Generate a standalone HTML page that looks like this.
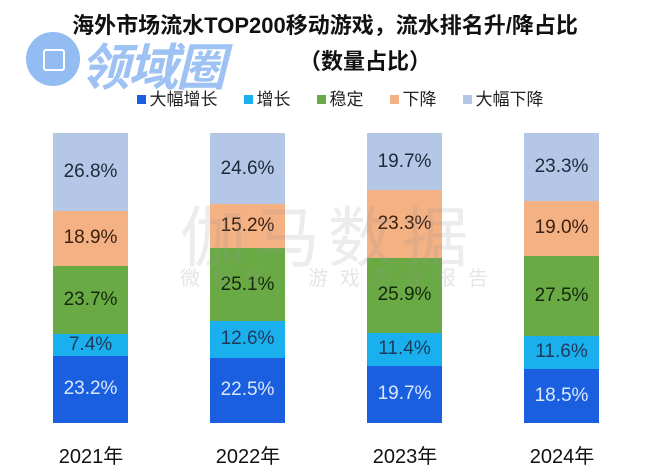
<!DOCTYPE html>
<html><head><meta charset="utf-8"><style>
body{margin:0;width:650px;height:476px;background:#fff;overflow:hidden;position:relative;font-family:"Liberation Sans","Noto Sans CJK SC",sans-serif}
.t{position:absolute;left:0;width:650px;text-align:center;font-weight:bold;font-size:22px;color:#111}
.leg{position:absolute;top:85px;left:0;width:650px;text-align:center;font-size:17px;color:#222;padding-left:30px;box-sizing:border-box}
.leg span{margin:0 13px}
.leg i{display:inline-block;width:9px;height:9px;margin-right:4px;vertical-align:1px}
.bar{position:absolute;width:75px;top:133px;height:290px}
.s{position:absolute;left:0;width:75px;display:flex;align-items:center;justify-content:center;font-size:19px;color:#1d2a3a}
.y{position:absolute;top:440px;width:120px;text-align:center;font-size:20px;color:#111}
</style></head><body>
<div class="t" style="top:8px">海外市场流水TOP200移动游戏，流水排名升/降占比</div>
<div class="t" style="top:44px;padding-left:40px">（数量占比）</div>
<div style="position:absolute;left:26px;top:32px;width:54px;height:54px;border-radius:50%;background:#7fb0f0;opacity:.85"></div>
<div style="position:absolute;left:43px;top:49px;width:18px;height:18px;border:2px solid #fff;border-radius:3px"></div>
<div style="position:absolute;left:80px;top:28px;font-size:50px;font-weight:bold;font-style:italic;color:#8cb8f2;opacity:.85;letter-spacing:-2px">领域圈</div>
<div class="leg"><span><i style="background:#1a5fe0"></i>大幅增长</span><span><i style="background:#1ab0ee"></i>增长</span><span><i style="background:#6aaa45"></i>稳定</span><span><i style="background:#f4b183"></i>下降</span><span><i style="background:#b4c7e7"></i>大幅下降</span></div>
<div id="c"></div>
<div style="position:absolute;left:180px;top:185px;font-size:66px;color:rgba(150,150,150,.18);letter-spacing:8px">伽马数据</div>
<div style="position:absolute;left:180px;top:262px;font-size:20px;color:rgba(150,150,150,.25);letter-spacing:12px">微信号　游戏产业报告</div>
<script>
var d=[[23.2,7.4,23.7,18.9,26.8],[22.5,12.6,25.1,15.2,24.6],[19.7,11.4,25.9,23.3,19.7],[18.5,11.6,27.5,19.0,23.3]];
var col=["#1a5fe0","#1ab0ee","#6aaa45","#f4b183","#b4c7e7"];
var tc=["#dbe8ff","#1d3a5a","#14280e","#3a2010","#1d2a3a"];
var yr=["2021年","2022年","2023年","2024年"];
var h="";
d.forEach(function(r,i){var x=53+i*157,sum=r.reduce(function(a,b){return a+b}),b=0;h+='<div class="bar" style="left:'+x+'px">';
r.forEach(function(v,j){var hh=v/sum*290;h+='<div class="s" style="bottom:'+b+'px;height:'+hh+'px;background:'+col[j]+';color:'+tc[j]+'">'+v.toFixed(1)+'%</div>';b+=hh;});
h+='</div><div class="y" style="left:'+(x-22)+'px">'+yr[i]+'</div>';});
document.getElementById("c").innerHTML=h;
</script>
</body></html>
